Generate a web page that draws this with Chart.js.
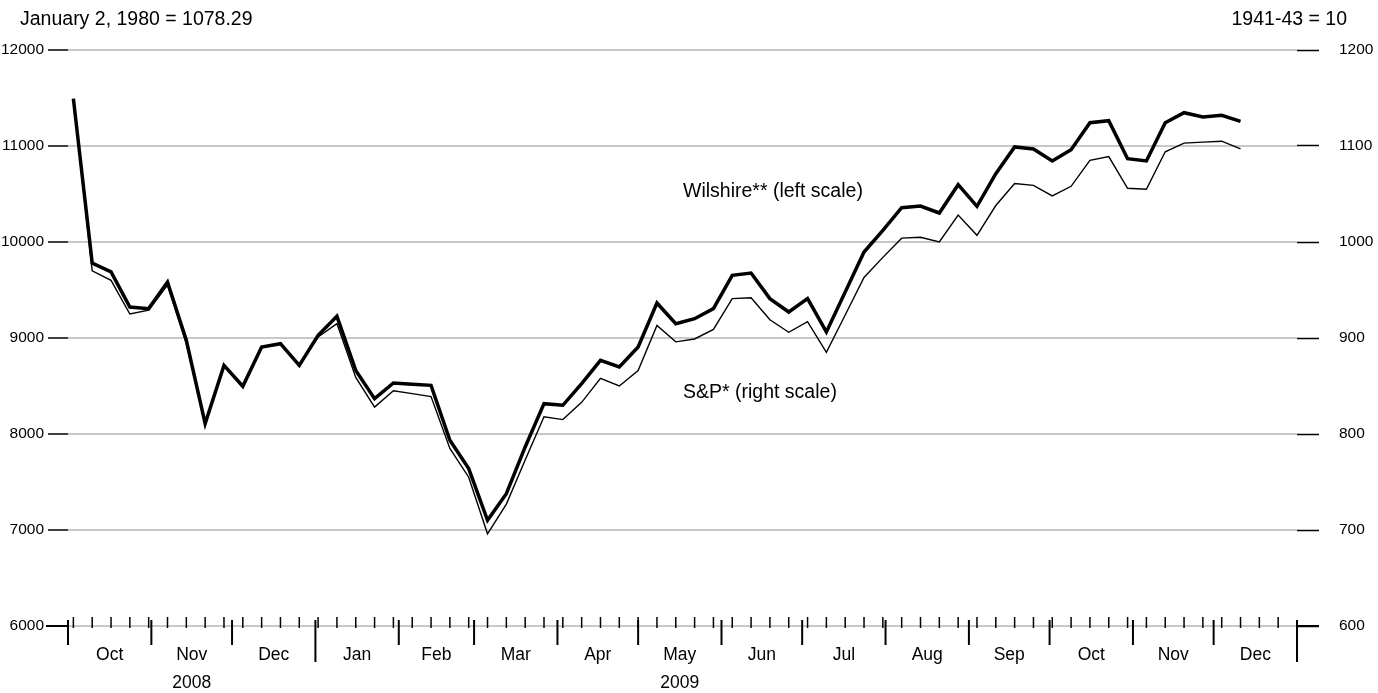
<!DOCTYPE html>
<html><head><meta charset="utf-8">
<script src="https://cdn.jsdelivr.net/npm/chart.js@4"></script>
<style>html,body{margin:0;padding:0;background:#fff}#wrap{width:1378px;height:693px}</style>
</head><body><div id="wrap"><canvas id="c" width="1378" height="693"></canvas></div>
<script>
const startDate = "2008-10-03"; // first weekly observation
const wilshire = [11493,9781,9688,9323,9306,9583,8976,8108,8715,8497,8906,8941,8715,9028,9226,8663,8368,8531,8517,8507,
7934,7639,7101,7378,7865,8316,8299,8524,8767,8698,8906,9365,9149,9201,9306,9653,9677,9410,9271,9410,9063,
9480,9896,10122,10358,10375,10302,10597,10372,10712,10990,10969,10844,10962,11243,11264,10868,10844,11243,11347,11302,11319,11257];
const sp = [1149,970,960,925,929,955,894,811,872,850,891,894,872,901,915,859,828,845,842,839,
785,755,696,727,773,818,815,833,858,850,866,913,896,899,909,941,942,919,906,917,885,
924,963,984,1004,1005,1000,1028,1007,1038,1061,1059,1048,1058,1085,1089,1056,1055,1094,1103,1104,1105,1097];
const monthLabels = ["Oct","Nov","Dec","Jan","Feb","Mar","Apr","May","Jun","Jul","Aug","Sep","Oct","Nov","Dec"];
const yearLabels = [{label:"2008", month:1},{label:"2009", month:7}];
const leftTicks = [6000,7000,8000,9000,10000,11000,12000];
const rightTicks = [600,700,800,900,1000,1100,1200];

const origin = Date.UTC(2008,9,1);
const DAY = 86400000;
const dayOf = s => (Date.parse(s+"T00:00:00Z") - origin)/DAY;
const d0 = dayOf(startDate);
const days = wilshire.map((_,i)=> d0 + 7*i);
const monthStarts = [];
for (let m=0;m<=15;m++) monthStarts.push((Date.UTC(2008,9+m,1)-origin)/DAY);
const endDay = monthStarts[15];

const FONT = "'Liberation Sans', Arial, sans-serif";

const axisPlugin = {
  id:'axisPlugin',
  afterDraw(chart){
    const ctx = chart.ctx, x = chart.scales.x, y = chart.scales.yL;
    const yb = y.getPixelForValue(6000);
    ctx.save();
    ctx.strokeStyle = '#000'; ctx.lineWidth = 1.5;
    for (let d = d0; d < endDay; d += 7) {
      const px = x.getPixelForValue(d);
      ctx.beginPath(); ctx.moveTo(px, yb-9); ctx.lineTo(px, yb+2); ctx.stroke();
    }
    monthStarts.forEach((d,i)=>{
      const px = x.getPixelForValue(d);
      const isYear = (i===3 || i===15);
      ctx.lineWidth = 2;
      ctx.beginPath(); ctx.moveTo(px, yb-6); ctx.lineTo(px, yb + (isYear?36:19)); ctx.stroke();
    });
    const pl = x.getPixelForValue(0);
    ctx.beginPath(); ctx.moveTo(pl-22, yb); ctx.lineTo(pl, yb); ctx.stroke();
    const pr = x.getPixelForValue(endDay);
    ctx.beginPath(); ctx.moveTo(pr, yb); ctx.lineTo(pr+22, yb); ctx.stroke();
    ctx.fillStyle = '#000';
    ctx.font = '17.5px ' + FONT; ctx.textAlign = 'center'; ctx.textBaseline = 'middle';
    monthLabels.forEach((lab,i)=>{
      const px = (x.getPixelForValue(monthStarts[i]) + x.getPixelForValue(monthStarts[i+1]))/2;
      ctx.fillText(lab, px, yb+29);
    });
    yearLabels.forEach(o=>{
      const px = (x.getPixelForValue(monthStarts[o.month]) + x.getPixelForValue(monthStarts[o.month+1]))/2;
      ctx.fillText(o.label, px, yb+57);
    });
    ctx.font = '19.5px ' + FONT;
    ctx.textAlign = 'left';
    ctx.fillText('January 2, 1980 = 1078.29', 20, 20);
    ctx.fillText('Wilshire** (left scale)', 683, 192);
    ctx.fillText('S&P* (right scale)', 683, 393);
    ctx.textAlign = 'right';
    ctx.fillText('1941-43 = 10', 1347, 20);
    ctx.restore();
  }
};

new Chart(document.getElementById('c'), {
  type:'line',
  data:{ datasets:[
    {label:'Wilshire', data: days.map((d,i)=>({x:d,y:wilshire[i]})), yAxisID:'yL', borderColor:'#000', borderWidth:3.5, pointRadius:0, tension:0},
    {label:'S&P', data: days.map((d,i)=>({x:d,y:sp[i]})), yAxisID:'yR', borderColor:'#000', borderWidth:1.4, pointRadius:0, tension:0}
  ]},
  options:{
    responsive:false, animation:false,
    layout:{padding:{top:50,bottom:0,left:0,right:0}},
    plugins:{legend:{display:false}, tooltip:{enabled:false}},
    scales:{
      x:{type:'linear', min:0, max:endDay, display:true, grid:{display:false}, border:{display:false},
         ticks:{display:false}, afterFit(s){ s.height = 67; }},
      yL:{position:'left', min:6000, max:12000, afterBuildTicks(s){ s.ticks = leftTicks.map(v=>({value:v})); },
          grid:{color:'#c8c8c8', lineWidth:2, tickColor:'#000', tickLength:20, tickWidth:1.5},
          border:{display:false},
          ticks:{color:'#000', font:{family:FONT,size:15.5}, padding:4, callback:v=>String(v)},
          afterFit(s){ s.width = 68; }},
      yR:{position:'right', min:600, max:1200, afterBuildTicks(s){ s.ticks = rightTicks.map(v=>({value:v})); },
          grid:{drawOnChartArea:false, tickColor:'#000', tickLength:22, tickWidth:1.5},
          border:{display:false},
          ticks:{color:'#000', font:{family:FONT,size:15.5}, padding:20, callback:v=>String(v)},
          afterFit(s){ s.width = 81; }}
    }
  },
  plugins:[axisPlugin]
});
</script></body></html>
